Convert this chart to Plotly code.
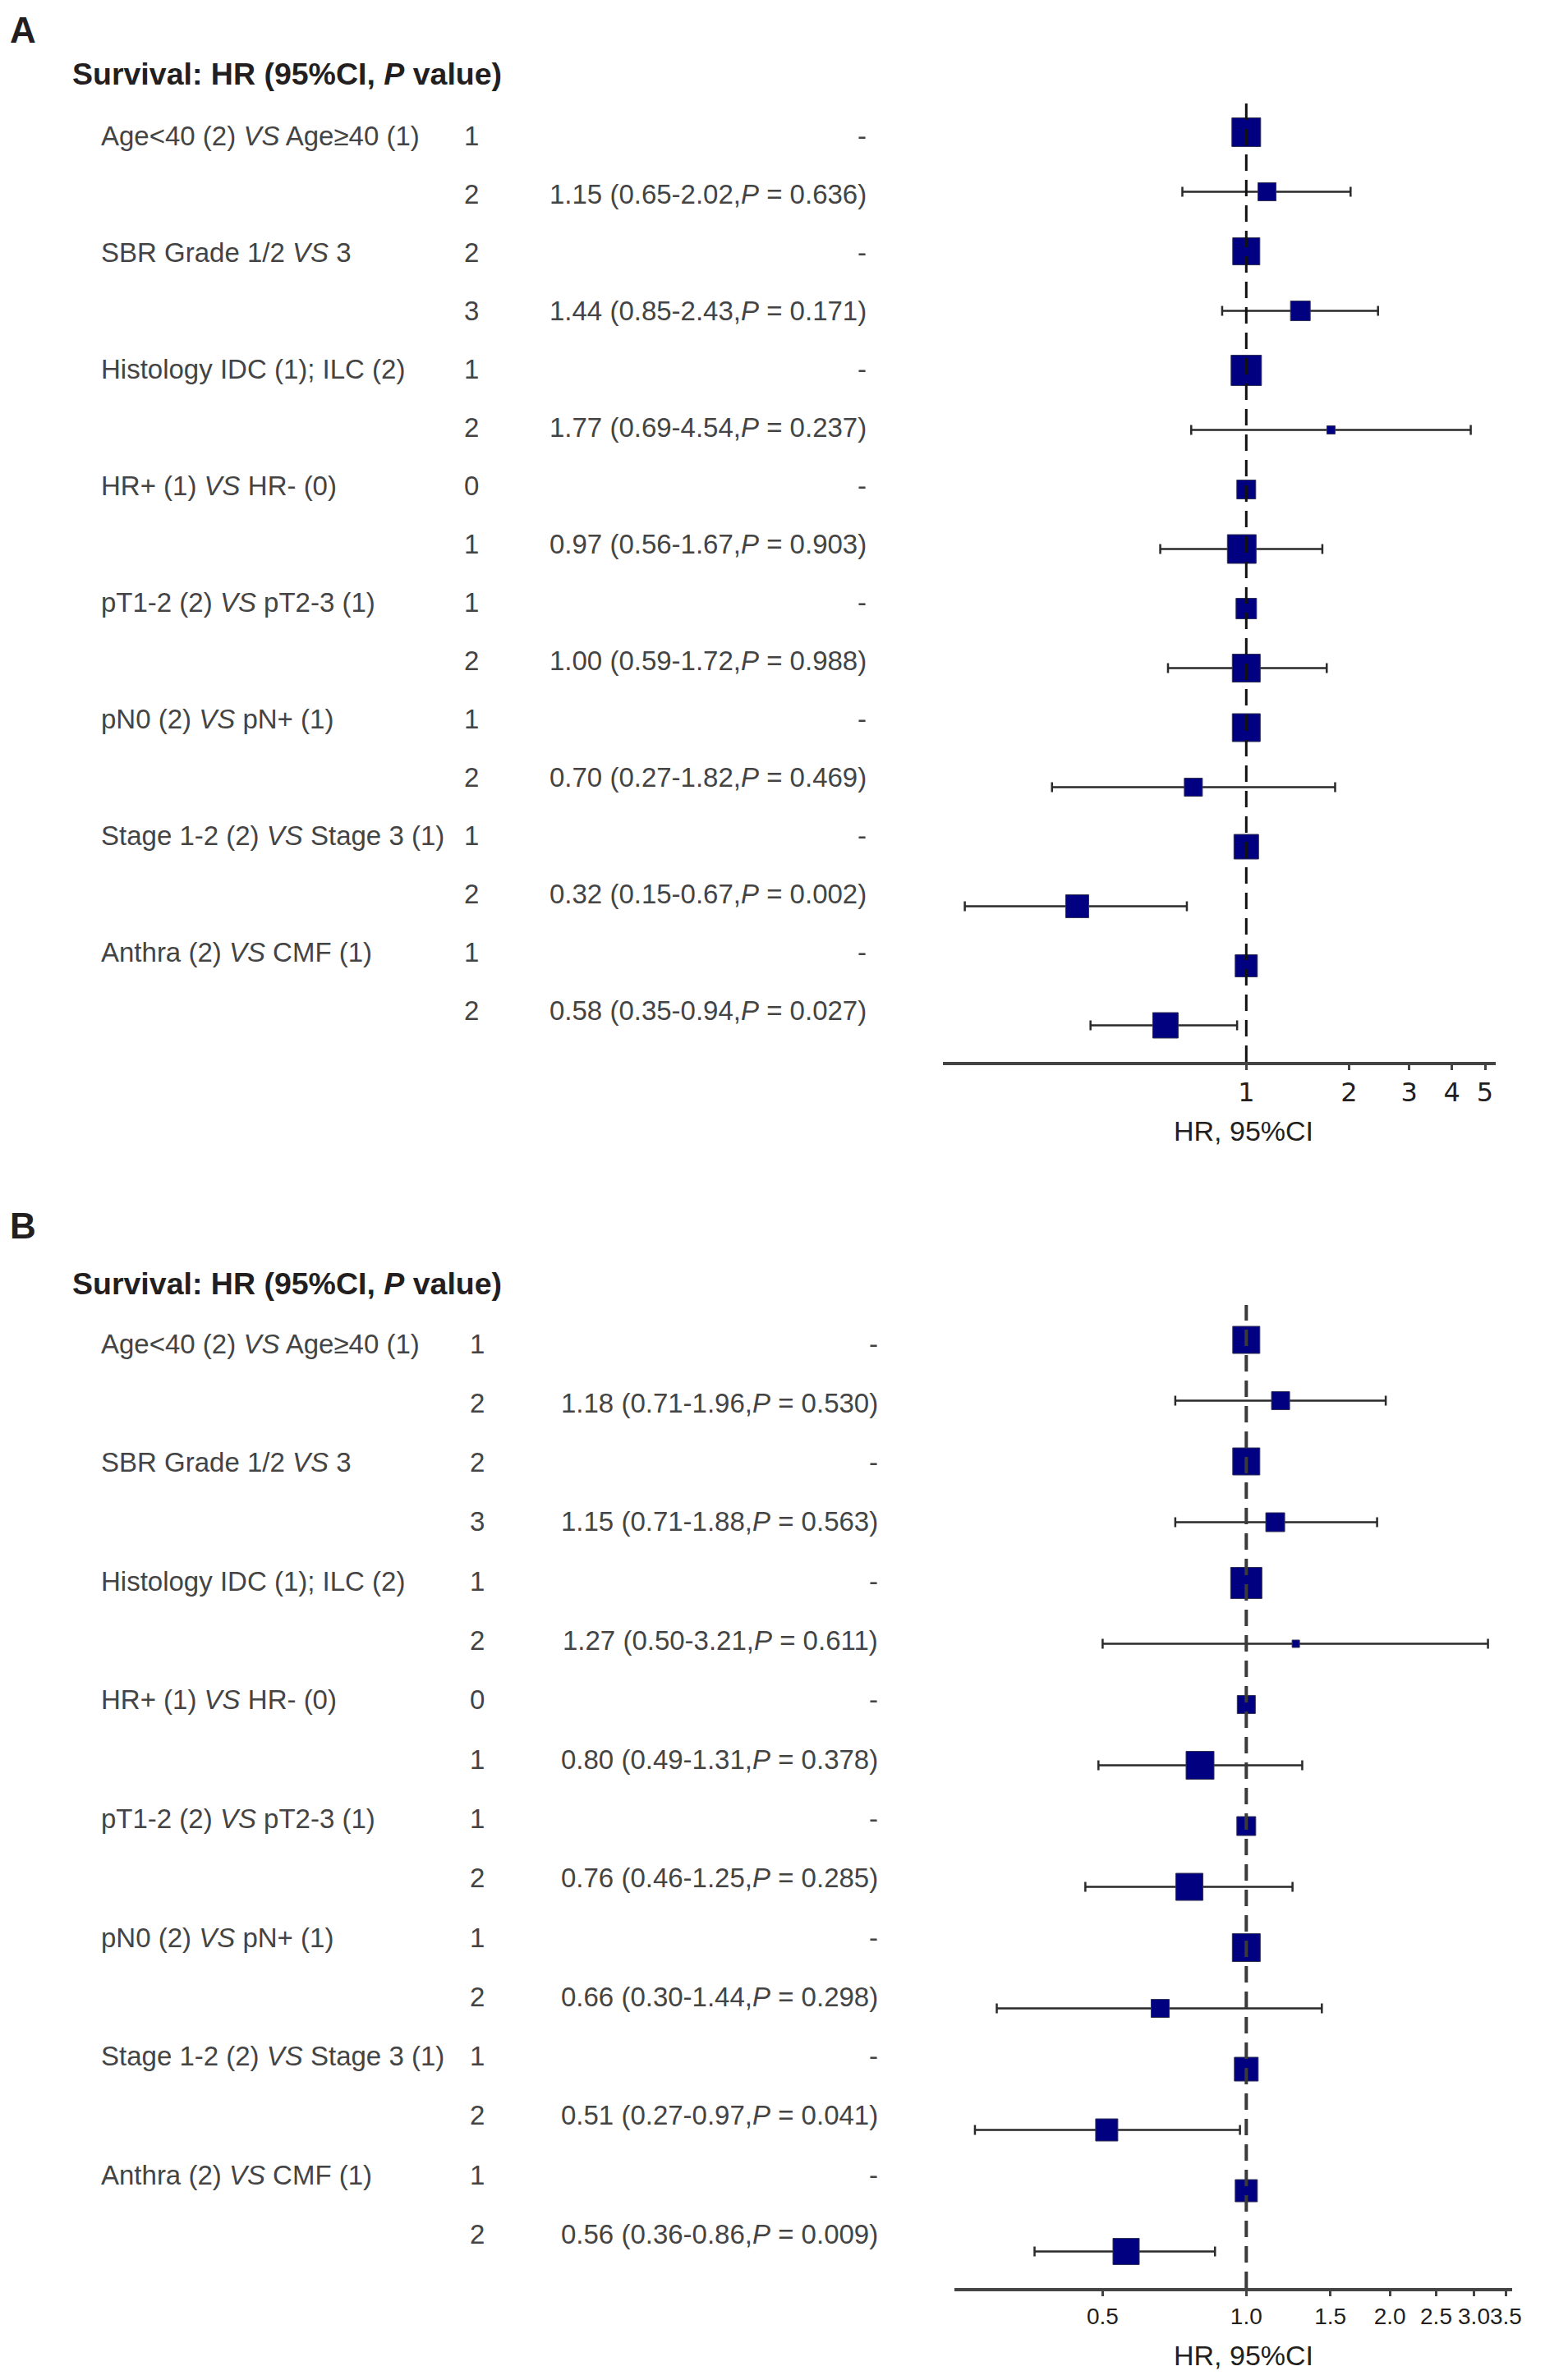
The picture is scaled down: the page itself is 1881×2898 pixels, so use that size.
import plotly.graph_objects as go

W, H = 1881, 2898

# ---------------- data ----------------
groups = [
    "Age<40 (2) <i>VS</i> Age≥40 (1)",
    "SBR Grade 1/2 <i>VS</i> 3",
    "Histology IDC (1); ILC (2)",
    "HR+ (1) <i>VS</i> HR- (0)",
    "pT1-2 (2) <i>VS</i> pT2-3 (1)",
    "pN0 (2) <i>VS</i> pN+ (1)",
    "Stage 1-2 (2) <i>VS</i> Stage 3 (1)",
    "Anthra (2) <i>VS</i> CMF (1)",
]
ref_levels = [1, 2, 1, 0, 1, 1, 1, 1]
cmp_levels = [2, 3, 2, 1, 2, 2, 2, 2]
REF_HR = 1.0

# Panel A
hr_A = [1.15, 1.44, 1.77, 0.97, 1.00, 0.70, 0.32, 0.58]
lo_A = [0.65, 0.85, 0.69, 0.56, 0.59, 0.27, 0.15, 0.35]
hi_A = [2.02, 2.43, 4.54, 1.67, 1.72, 1.82, 0.67, 0.94]
p_A = [0.636, 0.171, 0.237, 0.903, 0.988, 0.469, 0.002, 0.027]
ref_weight_A = [35, 33, 37, 23, 25, 34, 30, 27]
cmp_weight_A = [22, 24, 10, 35, 34, 22, 28, 31]
ticks_A = [1, 2, 3, 4, 5]
ticktext_A = ["1", "2", "3", "4", "5"]

# Panel B
hr_B = [1.18, 1.15, 1.27, 0.80, 0.76, 0.66, 0.51, 0.56]
lo_B = [0.71, 0.71, 0.50, 0.49, 0.46, 0.30, 0.27, 0.36]
hi_B = [1.96, 1.88, 3.21, 1.31, 1.25, 1.44, 0.97, 0.86]
p_B = [0.530, 0.563, 0.611, 0.378, 0.285, 0.298, 0.041, 0.009]
ref_weight_B = [33, 33, 38, 22, 23, 34, 29, 27]
cmp_weight_B = [22, 23, 9, 34, 33, 22, 27, 32]
ticks_B = [0.5, 1.0, 1.5, 2.0, 2.5, 3.0, 3.5]
ticktext_B = ["0.5", "1.0", "1.5", "2.0", "2.5", "3.0", "3.5"]

header = "<b>Survival: HR (95%CI, <i>P</i> value)</b>"
axis_title = "HR, 95%CI"

# ---------------- layout geometry (page pixels) ----------------
def px(v):
    return v / W

def py(v):
    return 1 - v / H

panels = {
    "A": dict(hr=hr_A, lo=lo_A, hi=hi_A, p=p_A, rw=ref_weight_A, cw=cmp_weight_A,
              ticks=ticks_A, ticktext=ticktext_A,
              plot_x=(1147.5, 1825.0), plot_top=110, axis_y=1285,
              one_px=1519, dec_px=418.6,
              mark0=153.0, mark_step=72.5, text0=157.0, text_step=71.0,
              label_y=28, label_x=2, header_y=82, header_x=78, lab_x=114,
              lvl_x=570, res_x=1056, title_y=1369,
              tickfont=dict(family="DejaVu Sans", size=32, color="#231f20"),
              xa="x", ya="y", yt="y3", line_color="#111111", line_w=3),
    "B": dict(hr=hr_B, lo=lo_B, hi=hi_B, p=p_B, rw=ref_weight_B, cw=cmp_weight_B,
              ticks=ticks_B, ticktext=ticktext_B,
              plot_x=(1161.0, 1845.0), plot_top=1581, axis_y=2778,
              one_px=1519, dec_px=584.7,
              mark0=1623.5, mark_step=74.0, text0=1628, text_step=72.3,
              label_y=1484, label_x=2, header_y=1555, header_x=78, lab_x=114,
              lvl_x=577, res_x=1070, title_y=2860,
              tickfont=dict(family="Liberation Sans", size=28, color="#231f20"),
              xa="x2", ya="y2", yt="y4", line_color="#3a3a3a", line_w=4),
}

NAVY = "#000080"
fig = go.Figure()
annotations = []
shapes = []
layout_axes = {}

n_rows = 2 * len(groups)
ref_rows = list(range(0, n_rows, 2))
cmp_rows = list(range(1, n_rows, 2))

for name, P in panels.items():
    xa, ya, yt = P["xa"], P["ya"], P["yt"]
    # reference category rows (HR = 1, no CI)
    fig.add_trace(go.Scatter(
        x=[REF_HR] * len(groups), y=ref_rows, mode="markers",
        marker=dict(symbol="square", size=P["rw"], color=NAVY, opacity=1,
                    line=dict(color="#333355", width=1)),
        xaxis=xa, yaxis=ya, showlegend=False, hoverinfo="skip"))
    # comparison rows with 95% CI
    fig.add_trace(go.Scatter(
        x=P["hr"], y=cmp_rows, mode="markers",
        marker=dict(symbol="square", size=P["cw"], color=NAVY, opacity=1,
                    line=dict(color="#333355", width=1)),
        error_x=dict(type="data", symmetric=False,
                     array=[h - m for h, m in zip(P["hi"], P["hr"])],
                     arrayminus=[m - l for m, l in zip(P["hr"], P["lo"])],
                     color="#2a2a2a", thickness=2.5, width=6),
        xaxis=xa, yaxis=ya, showlegend=False, hoverinfo="skip"))
    # empty trace that materialises the text-row axis
    fig.add_trace(go.Scatter(x=[None], y=[None], xaxis=xa, yaxis=yt,
                             showlegend=False, hoverinfo="skip"))

    x0, x1 = P["plot_x"]
    top, bot = P["plot_top"], P["axis_y"]
    lg0 = (x0 - P["one_px"]) / P["dec_px"]
    lg1 = (x1 - P["one_px"]) / P["dec_px"]
    dom_h = bot - top
    m_top = -(P["mark0"] - top) / P["mark_step"]
    m_bot = m_top + dom_h / P["mark_step"]
    t_top = -(P["text0"] - top) / P["text_step"]
    t_bot = t_top + dom_h / P["text_step"]

    xkey = "xaxis" if xa == "x" else "xaxis" + xa[1:]
    ykey = "yaxis" if ya == "y" else "yaxis" + ya[1:]
    tkey = "yaxis" + yt[1:]
    layout_axes[xkey] = dict(
        type="log", domain=[px(x0), px(x1)], range=[lg0, lg1], anchor=ya,
        tickvals=P["ticks"], ticktext=P["ticktext"], tickangle=0,
        ticks="outside", ticklen=6, tickwidth=3, tickcolor="#444444",
        ticklabelstandoff=0, tickfont=P["tickfont"],
        showline=True, linewidth=4, linecolor="#444444",
        showgrid=False, zeroline=False, fixedrange=True)
    layout_axes[ykey] = dict(
        domain=[py(bot), py(top)], range=[m_bot, m_top], anchor=xa,
        showticklabels=False, showgrid=False, zeroline=False, showline=False,
        ticks="", fixedrange=True)
    layout_axes[tkey] = dict(
        overlaying=ya, range=[t_bot, t_top], anchor=xa,
        showticklabels=False, showgrid=False, zeroline=False, showline=False,
        ticks="", fixedrange=True)

    # dashed reference line at HR = 1
    shapes.append(dict(type="line", xref=xa, yref=ya + " domain",
                       x0=REF_HR, x1=REF_HR, y0=0, y1=1, layer="above",
                       line=dict(color=P["line_color"], width=P["line_w"], dash="20px,11px")))

    # panel letter, header and axis title
    annotations.append(dict(text="<b>" + name + "</b>", xref="paper", yref="paper",
                            x=px(P["label_x"]), y=py(P["label_y"]), xanchor="left",
                            yanchor="middle", showarrow=False,
                            font=dict(family="Liberation Sans", size=44, color="#231f20")))
    annotations.append(dict(text=header, xref="paper", yref="paper",
                            x=px(P["header_x"]), y=py(P["header_y"]), xanchor="left",
                            yanchor="middle", showarrow=False,
                            font=dict(family="Liberation Sans", size=37.5, color="#231f20")))
    annotations.append(dict(text=axis_title, xref="paper", yref="paper",
                            x=px(P["one_px"] - 3), y=py(P["title_y"]), xanchor="center",
                            yanchor="middle", showarrow=False,
                            font=dict(family="Liberation Sans", size=34, color="#231f20")))

    rowfont = dict(family="Liberation Sans", size=33, color="#444444")
    for g, label in enumerate(groups):
        r0, r1 = 2 * g, 2 * g + 1
        annotations.append(dict(text=label, xref="paper", yref=yt, x=px(P["lab_x"]), y=r0,
                                xanchor="left", yanchor="middle", showarrow=False, font=rowfont))
        for r, lvl in ((r0, ref_levels[g]), (r1, cmp_levels[g])):
            annotations.append(dict(text=str(lvl), xref="paper", yref=yt, x=px(P["lvl_x"]), y=r,
                                    xanchor="center", yanchor="middle", showarrow=False,
                                    font=rowfont))
        annotations.append(dict(text="-", xref="paper", yref=yt, x=px(P["res_x"]), y=r0,
                                xanchor="right", yanchor="middle", showarrow=False, font=rowfont))
        res = "{:.2f} ({:.2f}-{:.2f},<i>P</i> = {:.3f})".format(
            P["hr"][g], P["lo"][g], P["hi"][g], P["p"][g])
        annotations.append(dict(text=res, xref="paper", yref=yt, x=px(P["res_x"]), y=r1,
                                xanchor="right", yanchor="middle", showarrow=False, font=rowfont))

fig.update_layout(
    width=W, height=H,
    margin=dict(l=0, r=0, t=0, b=0),
    paper_bgcolor="white", plot_bgcolor="rgba(0,0,0,0)",
    showlegend=False,
    annotations=annotations, shapes=shapes,
    **layout_axes,
)

fig.write_html("out.html")
